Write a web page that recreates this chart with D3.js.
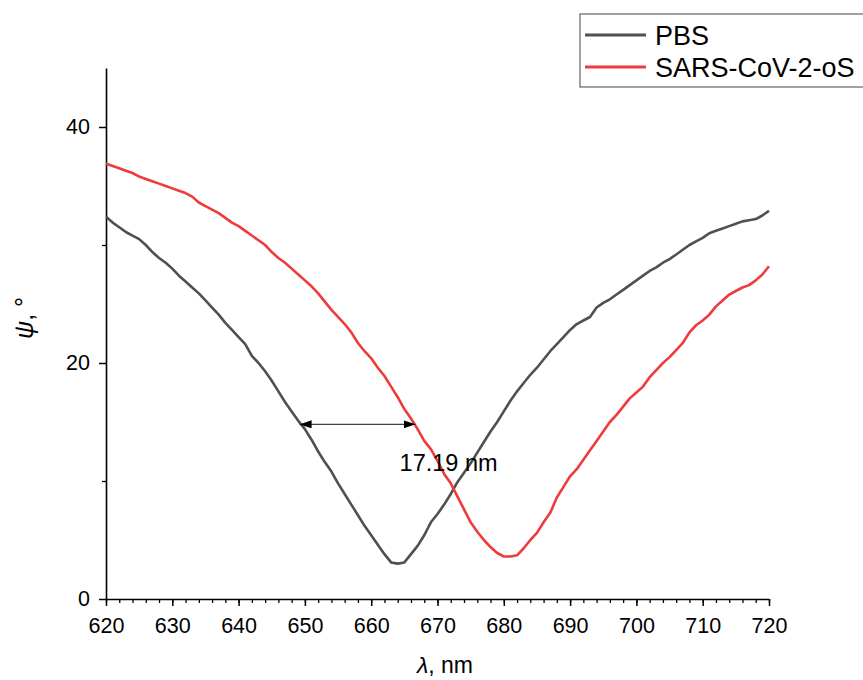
<!DOCTYPE html>
<html>
<head>
<meta charset="utf-8">
<script src="https://cdn.jsdelivr.net/npm/d3@7"></script>
<style>
  body { margin: 0; background: #fff; }
  text { font-family: "Liberation Sans", Arial, sans-serif; }
</style>
</head>
<body>
<script>
const wavelengths = d3.range(620, 721, 1);

const pbs = [
  32.4, 31.9, 31.5, 31.1, 30.8, 30.5, 30.0, 29.4, 28.9, 28.5,
  28.0, 27.4, 26.9, 26.4, 25.9, 25.3, 24.7, 24.1, 23.4, 22.8,
  22.2, 21.6, 20.6, 20.0, 19.3, 18.5, 17.6, 16.7, 15.9, 15.1,
  14.4, 13.5, 12.5, 11.6, 10.8, 9.8, 8.9, 8.0, 7.1, 6.2,
  5.4, 4.6, 3.8, 3.1, 3.0, 3.1, 3.8, 4.5, 5.4, 6.5,
  7.2, 8.0, 8.9, 9.9, 10.7, 11.5, 12.4, 13.3, 14.2, 15.0,
  15.9, 16.8, 17.6, 18.3, 19.0, 19.6, 20.3, 21.0, 21.6, 22.2,
  22.8, 23.3, 23.6, 23.9, 24.7, 25.1, 25.4, 25.8, 26.2, 26.6,
  27.0, 27.4, 27.8, 28.1, 28.5, 28.8, 29.2, 29.6, 30.0, 30.3,
  30.6, 31.0, 31.2, 31.4, 31.6, 31.8, 32.0, 32.1, 32.2, 32.5,
  32.9
];

const sars = [
  36.9, 36.7, 36.5, 36.3, 36.1, 35.8, 35.6, 35.4, 35.2, 35.0,
  34.8, 34.6, 34.4, 34.1, 33.6, 33.3, 33.0, 32.7, 32.3, 31.9,
  31.6, 31.2, 30.8, 30.4, 30.0, 29.4, 28.9, 28.5, 28.0, 27.5,
  27.0, 26.5, 25.9, 25.2, 24.5, 23.9, 23.3, 22.6, 21.7, 21.0,
  20.4, 19.6, 18.9, 18.0, 17.1, 16.1, 15.3, 14.4, 13.4, 12.7,
  11.7, 10.6, 9.8, 8.7, 7.6, 6.5, 5.7, 5.0, 4.4, 3.9,
  3.6, 3.6, 3.7, 4.3, 5.0, 5.6, 6.5, 7.3, 8.6, 9.5,
  10.4, 11.0, 11.8, 12.6, 13.4, 14.2, 15.0, 15.6, 16.3, 17.0,
  17.5, 18.0, 18.8, 19.4, 20.0, 20.5, 21.1, 21.7, 22.6, 23.2,
  23.6, 24.1, 24.8, 25.3, 25.8, 26.1, 26.4, 26.6, 27.0, 27.5,
  28.2
];

const seriesNames = ["PBS", "SARS-CoV-2-oS"];
const seriesColors = ["#505050", "#ee3b3b"];
const xTicks = [620, 630, 640, 650, 660, 670, 680, 690, 700, 710, 720];
const yTicks = [0, 20, 40];
const yMinor = [10, 30];

// FWHM shift annotation
const shiftFrom = 649.2;
const shiftTo = 666.7;
const shiftLevel = 14.8;
const shiftLabel = "17.19 nm";

const W = 863, H = 680;
const margin = {top: 68, right: 94, bottom: 81, left: 106};
const width = W - margin.left - margin.right;
const height = H - margin.top - margin.bottom;

const x = d3.scaleLinear().domain([620, 720]).range([0, width]);
const y = d3.scaleLinear().domain([0, 45]).range([height, 0]);

const root = d3.select("body").append("svg")
  .attr("width", W)
  .attr("height", H);

const svg = root.append("g")
  .attr("transform", "translate(" + margin.left + "," + margin.top + ")");

// minor ticks
svg.append("g")
  .attr("transform", "translate(0," + height + ")")
  .call(d3.axisBottom(x).tickValues(d3.range(620, 721, 2)).tickSize(4).tickFormat(""))
  .call(g => g.select(".domain").remove())
  .call(g => g.selectAll("line").attr("stroke-width", 1.3));

svg.append("g")
  .call(d3.axisLeft(y).tickValues(yMinor).tickSize(4).tickFormat(""))
  .call(g => g.select(".domain").remove())
  .call(g => g.selectAll("line").attr("stroke-width", 1.3));

const xAxis = svg.append("g")
  .attr("transform", "translate(0," + height + ")")
  .call(d3.axisBottom(x).tickValues(xTicks).tickSize(7).tickPadding(12).tickSizeOuter(0));

const yAxis = svg.append("g")
  .call(d3.axisLeft(y).tickValues(yTicks).tickSize(7).tickPadding(9).tickSizeOuter(0));

[xAxis, yAxis].forEach(a => {
  a.select(".domain").attr("stroke-width", 1.6);
  a.selectAll(".tick line").attr("stroke-width", 1.5);
  a.selectAll("text")
    .style("font-family", "'Liberation Sans', Arial, sans-serif")
    .style("font-size", "21.5px")
    .attr("fill", "#000");
});

// curves
const line = d3.line()
  .x((d, i) => x(wavelengths[i]))
  .y(d => y(d));

[pbs, sars].forEach((s, i) => {
  svg.append("path")
    .datum(s)
    .attr("fill", "none")
    .attr("stroke", seriesColors[i])
    .attr("stroke-width", 2.6)
    .attr("stroke-linejoin", "round")
    .attr("d", line);
});

// double arrow
const defs = root.append("defs");
defs.append("marker")
  .attr("id", "ahead")
  .attr("viewBox", "0 0 12 8")
  .attr("refX", 12)
  .attr("refY", 4)
  .attr("markerWidth", 12)
  .attr("markerHeight", 8)
  .attr("markerUnits", "userSpaceOnUse")
  .attr("orient", "auto-start-reverse")
  .append("path")
  .attr("d", "M0,0 L12,4 L0,8 Z")
  .attr("fill", "#000");

svg.append("line")
  .attr("x1", x(shiftFrom))
  .attr("x2", x(shiftTo))
  .attr("y1", y(shiftLevel))
  .attr("y2", y(shiftLevel))
  .attr("stroke", "#444")
  .attr("stroke-width", 1.2)
  .attr("marker-start", "url(#ahead)")
  .attr("marker-end", "url(#ahead)");

svg.append("text")
  .attr("x", x(shiftFrom) + 100)
  .attr("y", y(shiftLevel) + 47)
  .text(shiftLabel)
  .style("font-size", "23.5px")
  .attr("fill", "#000");

// axis titles
const xt = root.append("text")
  .attr("x", 445)
  .attr("y", 673)
  .attr("text-anchor", "middle")
  .style("font-size", "23px");
xt.append("tspan").style("font-style", "italic").text("λ");
xt.append("tspan").text(", nm");

const yt = root.append("text")
  .attr("transform", "translate(33,318) rotate(-90)")
  .attr("text-anchor", "middle")
  .style("font-size", "25px");
yt.append("tspan").style("font-style", "italic").text("ψ");
yt.append("tspan").text(", °");

// legend
const lg = root.append("g").attr("transform", "translate(580,14)");
lg.append("rect")
  .attr("x", 0).attr("y", 0)
  .attr("width", 300).attr("height", 73)
  .attr("fill", "#fff")
  .attr("stroke", "#444")
  .attr("stroke-width", 1);

seriesNames.forEach((name, i) => {
  const yy = 21 + i * 32;
  lg.append("line")
    .attr("x1", 5).attr("x2", 66)
    .attr("y1", yy).attr("y2", yy)
    .attr("stroke", seriesColors[i])
    .attr("stroke-width", 2.8);
  lg.append("text")
    .attr("x", 75).attr("y", yy + 10)
    .text(name)
    .style("font-size", "27px")
    .attr("fill", "#000");
});
</script>
</body>
</html>
